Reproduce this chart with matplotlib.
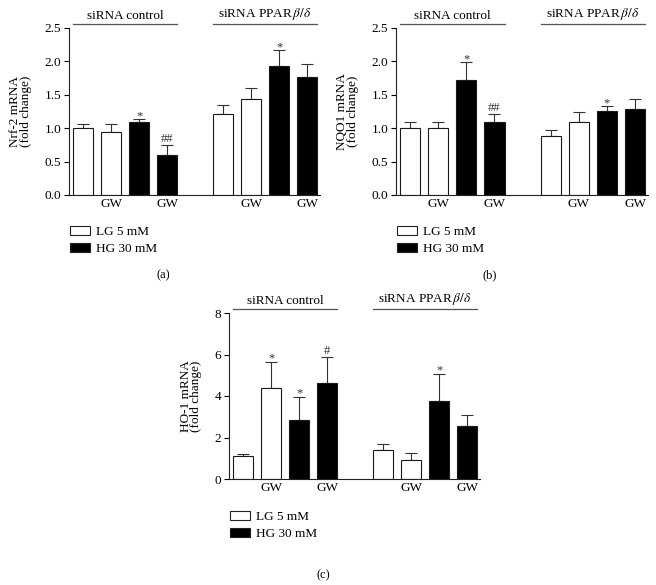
import numpy as np
import matplotlib
matplotlib.use('Agg')
import matplotlib.pyplot as plt
from matplotlib.patches import Patch

plt.rcParams['font.family'] = ['Liberation Serif', 'DejaVu Serif']
plt.rcParams['mathtext.fontset'] = 'stix'

### DATA ###
group_names = ['siRNA control', r'siRNA PPAR$\,\beta/\delta$']
tick_labels = ['GW', 'GW', 'GW', 'GW']
legend_labels = ['LG 5 mM', 'HG 30 mM']
bar_fill = ['white', 'white', 'black', 'black', 'white', 'white', 'black', 'black']

nrf2_mean = [1.01, 0.95, 1.10, 0.60, 1.21, 1.44, 1.93, 1.76]
nrf2_err = [0.05, 0.11, 0.035, 0.15, 0.135, 0.165, 0.235, 0.20]
nrf2_marks = {2: '*', 3: '##', 6: '*'}

nqo1_mean = [1.00, 1.00, 1.725, 1.09, 0.885, 1.09, 1.25, 1.29]
nqo1_err = [0.09, 0.09, 0.265, 0.12, 0.085, 0.15, 0.075, 0.145]
nqo1_marks = {2: '*', 3: '##', 6: '*'}

ho1_mean = [1.09, 4.37, 2.85, 4.62, 1.42, 0.93, 3.74, 2.54]
ho1_err = [0.11, 1.28, 1.12, 1.28, 0.29, 0.33, 1.33, 0.53]
ho1_marks = {1: '*', 2: '*', 3: '#', 6: '*'}

W, H = 656, 585
xpos = np.array([0, 1, 2, 3, 5, 6, 7, 8])
bar_w = 0.72


def px_axes(fig, left, top, right, bottom):
    '''axes from pixel box'''
    return fig.add_axes([left / W, 1 - bottom / H, (right - left) / W, (bottom - top) / H])


def draw_panel(fig, box, mean, err, marks, ylabel, ylim, yticks, yfmt, letter, letter_xy, legend_xy):
    ax = px_axes(fig, *box)
    ax.bar(xpos, mean, width=bar_w, color=bar_fill, edgecolor='#1a1a1a', linewidth=0.8, zorder=2)
    ax.errorbar(xpos, mean, yerr=[np.zeros(len(err)), err], fmt='none', ecolor='#333333',
                elinewidth=0.8, capsize=4, capthick=0.8, zorder=1)
    for i, s in marks.items():
        off = 2 if s.startswith('#') else 0
        ax.annotate(s, (xpos[i], mean[i] + err[i]), xytext=(0, off), textcoords='offset points',
                    ha='center', va='baseline', fontsize=9, color='#333333')
    ax.set_xlim(-0.5, 8.46)
    ax.set_ylim(*ylim)
    ax.set_yticks(yticks)
    ax.set_yticklabels([yfmt.format(v) for v in yticks], fontsize=9.5)
    ax.set_xticks([1, 3, 6, 8])
    ax.set_xticklabels(tick_labels, fontsize=9.5)
    ax.tick_params(axis='x', length=0, pad=2.5)
    ax.tick_params(axis='y', length=3.5, width=0.8, pad=2, direction='out')
    for sp in ('top', 'right'):
        ax.spines[sp].set_visible(False)
    for sp in ('left', 'bottom'):
        ax.spines[sp].set_linewidth(0.8)
        ax.spines[sp].set_color('#222222')
    ax.set_ylabel(ylabel, fontsize=9.5, labelpad=9, linespacing=0.85)

    # group headers
    for g, name in enumerate(group_names):
        x0 = xpos[4 * g] - bar_w / 2
        x1 = xpos[4 * g + 3] + bar_w / 2
        ax.plot([x0, x1], [1.025, 1.025], transform=ax.get_xaxis_transform(),
                color='#555555', lw=0.9, clip_on=False)
        ax.text((x0 + x1) / 2, 1.035, name, transform=ax.get_xaxis_transform(),
                ha='center', va='bottom', fontsize=9.5)

    handles = [Patch(facecolor='white', edgecolor='#222222', linewidth=0.8),
               Patch(facecolor='black', edgecolor='#222222', linewidth=0.8)]
    fig.legend(handles, legend_labels, loc='upper left',
               bbox_to_anchor=(legend_xy[0] / W, 1 - legend_xy[1] / H),
               frameon=False, fontsize=9.5, handlelength=1.5, handleheight=0.65,
               handletextpad=0.45, labelspacing=0.4, borderpad=0, borderaxespad=0)
    fig.text(letter_xy[0] / W, 1 - letter_xy[1] / H, letter, ha='center', va='center', fontsize=9)
    return ax


fig = plt.figure(figsize=(W / 100, H / 100), dpi=100, facecolor='white')

draw_panel(fig, (69, 28, 320, 195), nrf2_mean, nrf2_err, nrf2_marks,
           'Nrf-2 mRNA\n(fold change)', (0, 2.5), [0, 0.5, 1.0, 1.5, 2.0, 2.5], '{:.1f}',
           '(a)', (163, 275), (70, 226))
draw_panel(fig, (396, 28, 648, 195), nqo1_mean, nqo1_err, nqo1_marks,
           'NQO1 mRNA\n(fold change)', (0, 2.5), [0, 0.5, 1.0, 1.5, 2.0, 2.5], '{:.1f}',
           '(b)', (490, 275), (397, 226))
draw_panel(fig, (229, 313, 480, 479), ho1_mean, ho1_err, ho1_marks,
           'HO-1 mRNA\n(fold change)', (0, 8), [0, 2, 4, 6, 8], '{:d}',
           '(c)', (323, 575), (230, 511))

fig.savefig('out.png', dpi=100, facecolor='white')
